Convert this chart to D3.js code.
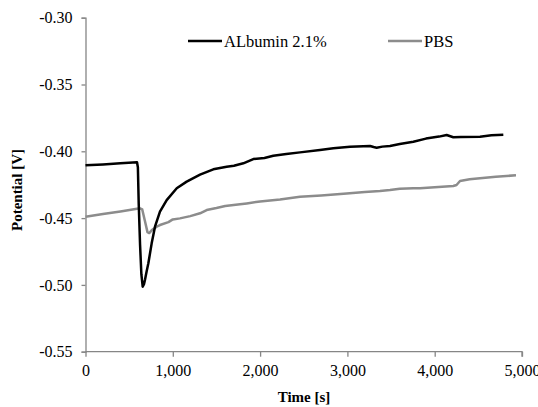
<!DOCTYPE html>
<html>
<head>
<meta charset="utf-8">
<script src="https://cdn.jsdelivr.net/npm/d3@7"></script>
<style>
  body { margin: 0; background: #fff; }
  svg text { font-family: "Liberation Serif", "Times New Roman", serif; fill: #000; }
</style>
</head>
<body>
<svg width="538" height="407"></svg>
<script>
// Albumin 2.1% (black)
var albTime = [0, 200, 400, 590, 600, 610, 625, 640, 655, 670, 681, 700, 720, 758, 796, 853, 930, 1045, 1159, 1312,
  1464, 1617, 1700, 1808, 1922, 2050, 2151, 2300, 2457, 2686, 2839, 3030, 3259, 3300, 3335, 3400, 3488, 3600, 3755,
  3900, 4050, 4137, 4213, 4300, 4519, 4650, 4786];
var albValue = [-0.4105, -0.4098, -0.4090, -0.4082, -0.4120, -0.4400, -0.4700, -0.4920, -0.5013, -0.4995, -0.4963,
  -0.4900, -0.4838, -0.4689, -0.4564, -0.4452, -0.4365, -0.4277, -0.4227, -0.4175,
  -0.4135, -0.4115, -0.4108, -0.4090, -0.4058, -0.4050, -0.4033, -0.4020, -0.4008, -0.3990, -0.3978, -0.3966,
  -0.3960, -0.3968, -0.3973, -0.3965, -0.3960, -0.3945, -0.3928, -0.3905, -0.3890, -0.3878, -0.3895, -0.3893,
  -0.3891, -0.3880, -0.3876];

// PBS (grey)
var pbsTime = [0, 200, 400, 624, 650, 680, 710, 730, 760, 815, 853, 950, 1000, 1082, 1200, 1312, 1388, 1500, 1600,
  1770, 1847, 2000, 2228, 2457, 2700, 2992, 3200, 3373, 3488, 3600, 3755, 3832, 4000, 4213, 4250, 4290, 4400,
  4519, 4700, 4931];
var pbsValue = [-0.4490, -0.4470, -0.4450, -0.4427, -0.4435, -0.4520, -0.4605, -0.4612, -0.4590, -0.4564, -0.4552,
  -0.4530, -0.4510, -0.4502, -0.4485, -0.4464, -0.4440, -0.4425, -0.4410, -0.4397, -0.4390, -0.4375, -0.4360,
  -0.4340, -0.4330, -0.4315, -0.4305, -0.4297, -0.4290, -0.4280, -0.4277, -0.4277, -0.4270, -0.4260, -0.4252,
  -0.4222, -0.4210, -0.4202, -0.4190, -0.4180];

var xTicks = [0, 1000, 2000, 3000, 4000, 5000];
var yTicks = [-0.55, -0.50, -0.45, -0.40, -0.35, -0.30];
var seriesNames = ["ALbumin 2.1%", "PBS"];
var seriesColors = ["#000000", "#8c8c8c"];

var svg = d3.select("svg");
var axisColor = "#868686";
var serif = "Liberation Serif, Times New Roman, serif";

var x = d3.scaleLinear().domain([0, 5000]).range([85.5, 522]);
var y = d3.scaleLinear().domain([-0.55, -0.30]).range([351.7, 17.7]);

// y axis (plain hyphen for the minus, like the original)
var yAxis = svg.append("g")
  .attr("transform", "translate(" + x(0) + ",0)")
  .call(d3.axisLeft(y).tickValues(yTicks).tickSize(4).tickPadding(9)
    .tickFormat(function (d) { return d.toFixed(2); }));

// x axis
var xAxis = svg.append("g")
  .attr("transform", "translate(0," + y(-0.55) + ")")
  .call(d3.axisBottom(x).tickValues(xTicks).tickSize(5).tickPadding(8).tickFormat(d3.format(",")));

[xAxis, yAxis].forEach(function (g) {
  g.attr("font-family", serif).attr("font-size", 16);
  g.select(".domain").attr("stroke", axisColor).attr("stroke-width", 1.3);
  g.selectAll(".tick line").attr("stroke", axisColor).attr("stroke-width", 1.3);
  g.selectAll(".tick text").attr("fill", "#000");
});
xAxis.select(".domain").attr("d", "M" + x(0) + ",0H" + x(5000) + "V5");

// lines
var line = d3.line()
  .x(function (d) { return x(d[0]); })
  .y(function (d) { return y(d[1]); });

var pbsData = pbsTime.map(function (t, i) { return [t, pbsValue[i]]; });
var albData = albTime.map(function (t, i) { return [t, albValue[i]]; });

svg.append("path").datum(pbsData)
  .attr("fill", "none").attr("stroke", seriesColors[1]).attr("stroke-width", 2.5)
  .attr("stroke-linejoin", "round").attr("d", line);

svg.append("path").datum(albData)
  .attr("fill", "none").attr("stroke", seriesColors[0]).attr("stroke-width", 2.5)
  .attr("stroke-linejoin", "round").attr("d", line);

// legend
var legendX = [188, 388];
seriesNames.forEach(function (name, i) {
  svg.append("line")
    .attr("x1", legendX[i]).attr("x2", legendX[i] + 34)
    .attr("y1", 41).attr("y2", 41)
    .attr("stroke", seriesColors[i]).attr("stroke-width", 2.5);
  svg.append("text")
    .attr("x", legendX[i] + 36).attr("y", 47)
    .attr("font-size", 16.5)
    .text(name);
});

// axis titles
svg.append("text")
  .attr("x", 304).attr("y", 402)
  .attr("text-anchor", "middle")
  .attr("font-size", 15).attr("font-weight", "bold")
  .text("Time [s]");

svg.append("text")
  .attr("transform", "translate(22,190) rotate(-90)")
  .attr("text-anchor", "middle")
  .attr("font-size", 15).attr("font-weight", "bold")
  .text("Potential [V]");
</script>
</body>
</html>
